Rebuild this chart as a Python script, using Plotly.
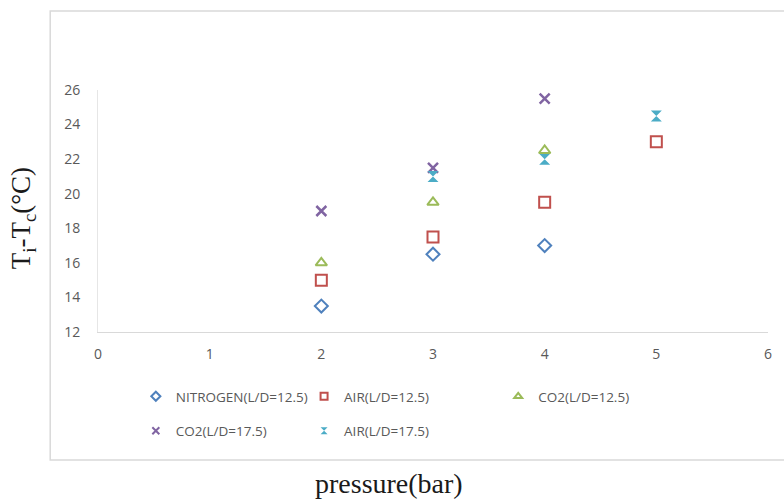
import plotly.graph_objects as go

# Pressure (bar) and temperature difference Ti - Tc (°C) for each gas / L-D ratio
p_nitrogen_125 = [2, 3, 4]
dt_nitrogen_125 = [13.5, 16.5, 17.0]

p_air_125 = [2, 3, 4, 5]
dt_air_125 = [15.0, 17.5, 19.5, 23.0]

p_co2_125 = [2, 3, 4]
dt_co2_125 = [16.0, 19.5, 22.5]

p_co2_175 = [2, 3, 4]
dt_co2_175 = [19.0, 21.5, 25.5]

p_air_175 = [3, 4, 5]
dt_air_175 = [21.0, 22.0, 24.5]

x_ticks = [0, 1, 2, 3, 4, 5, 6]
y_ticks = [12, 14, 16, 18, 20, 22, 24, 26]

W, H = 784, 501
ML, MR, MT, MB = 98, 13, 90, 169
PW, PH = W - ML - MR, H - MT - MB


def px_x(px):
    return (px - ML) / PW


def px_y(py):
    return (H - MB - py) / PH


fig = go.Figure()

series = [
    ("NITROGEN(L/D=12.5)", p_nitrogen_125, dt_nitrogen_125, "diamond-open", "#4F81BD", 10, 2, "legend"),
    ("CO2(L/D=17.5)", p_co2_175, dt_co2_175, "x-thin-open", "#8064A2", 10, 2.5, "legend"),
    ("AIR(L/D=12.5)", p_air_125, dt_air_125, "square-open", "#C0504D", 11, 2, "legend2"),
    ("AIR(L/D=17.5)", p_air_175, dt_air_175, "hourglass", "#4BACC6", 11, 0, "legend2"),
    ("CO2(L/D=12.5)", p_co2_125, dt_co2_125, "triangle-up-open", "#9BBB59", 10, 2, "legend3"),
]

for i, (name, xs, ys, sym, col, size, lw, leg) in enumerate(series):
    # plotted markers
    fig.add_trace(go.Scatter(
        x=xs, y=ys, mode="markers", name=name, showlegend=False, legendgroup=f"g{i}",
        marker=dict(symbol=sym, size=size, color=col,
                    line=dict(width=lw, color=col)),
    ))
    # compact legend key for the same series
    fig.add_trace(go.Scatter(
        x=[None], y=[None], mode="markers", name=name, legend=leg, legendgroup=f"g{i}",
        marker=dict(symbol=sym, size=7, color=col,
                    line=dict(width=min(lw, 2) if lw else 0, color=col)),
    ))

leg_font = dict(family="Open Sans, Liberation Sans, sans-serif", size=13.5, color="#595959")
leg_common = dict(orientation="v", xanchor="left", yanchor="top", font=leg_font,
                  bgcolor="rgba(0,0,0,0)", tracegroupgap=14, itemwidth=30)

tick_font = dict(family="Open Sans, Liberation Sans, sans-serif", size=14, color="#595959")

fig.update_layout(
    width=W, height=H,
    margin=dict(l=ML, r=MR, t=MT, b=MB),
    paper_bgcolor="white", plot_bgcolor="white",
    showlegend=True,
    legend=dict(x=px_x(136), y=px_y(381), **leg_common),
    legend2=dict(x=px_x(305), y=px_y(381), **leg_common),
    legend3=dict(x=px_x(500), y=px_y(381), **leg_common),
    xaxis=dict(range=[0, 6], tickvals=x_ticks, showgrid=False, zeroline=False,
               showline=True, linecolor="#D9D9D9", linewidth=1, ticks="",
               tickfont=tick_font, ticklabelstandoff=9),
    yaxis=dict(range=[12, 26], tickvals=y_ticks, showgrid=False, zeroline=False,
               showline=True, linecolor="#E6E6E6", linewidth=1, ticks="",
               tickfont=tick_font, ticklabelstandoff=14),
    shapes=[dict(type="rect", xref="paper", yref="paper",
                 x0=px_x(50), x1=px_x(800), y0=px_y(460), y1=px_y(11),
                 line=dict(color="#D9D9D9", width=1.5), fillcolor="rgba(0,0,0,0)",
                 layer="below")],
    annotations=[
        dict(text="T<sub>i</sub>-T<sub>c</sub>(°C)", xref="paper", yref="paper",
             x=px_x(23), y=px_y(218), xanchor="center", yanchor="middle",
             textangle=-90, showarrow=False,
             font=dict(family="Liberation Serif, Times New Roman, serif", size=27, color="#1a1a1a")),
        dict(text="pressure(bar)", xref="paper", yref="paper",
             x=px_x(390), y=px_y(483), xanchor="center", yanchor="middle", showarrow=False,
             font=dict(family="Liberation Serif, Times New Roman, serif", size=28, color="#1a1a1a")),
    ],
)

fig.write_html("out.html")
